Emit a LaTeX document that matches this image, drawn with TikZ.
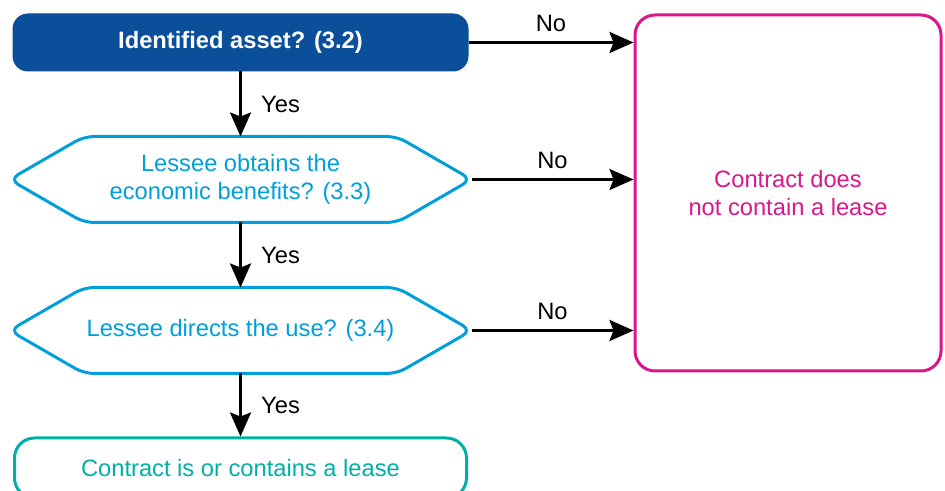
\documentclass[tikz,border=0pt]{standalone}
\usepackage{fontspec}
\setmainfont{Liberation Sans}
\usetikzlibrary{positioning, shapes.symbols, arrows.meta}

\definecolor{assetblue}{HTML}{0B4F9A}
\definecolor{questcyan}{HTML}{009FDC}
\definecolor{leasepink}{HTML}{D8178C}
\definecolor{leaseteal}{HTML}{00B0A8}

\begin{document}
\begin{tikzpicture}[x=1pt, y=1pt,
    font=\fontsize{23.7}{28.5}\selectfont,
    startnode/.style={rectangle, rounded corners=15pt, fill=assetblue, draw=assetblue, line width=1pt, text=white, font=\fontsize{23.7}{28.5}\selectfont\bfseries, minimum width=455pt, minimum height=57pt, inner sep=0pt},
    questnode/.style={signal, signal to=east and west, signal pointer angle=60, rounded corners=10pt, draw=questcyan, text=questcyan, line width=3pt, minimum width=462pt, minimum height=86pt, inner sep=0pt, outer sep=0pt, align=center},
    nonode/.style={rectangle, rounded corners=20pt, draw=leasepink, text=leasepink, line width=3pt, minimum width=306pt, minimum height=356pt, align=center},
    yesnode/.style={rectangle, rounded corners=20pt, draw=leaseteal, text=leaseteal, line width=3pt, minimum width=452pt, minimum height=60pt},
    flow/.style={-{Stealth[length=24pt, width=21pt, inset=4pt]}, line width=2.8pt},
    ]
      \clip (0,0) rectangle (945,490);

      %Nodes
      \node      (asset)    [startnode]   at (240.5,447.5)          {Identified asset? (3.2)};
      \node      (benefit)  [questnode, below=65pt of asset]        {Lessee obtains the\\economic benefits? (3.3)};
      \node      (direct)   [questnode, below=65pt of benefit]      {Lessee directs the use? (3.4)};
      \node      (islease)  [yesnode, below=63pt of direct]         {Contract is or contains a lease};
      \node      (nolease)  [nonode, below right=0pt and 165pt of asset.north east] {Contract does\\not contain a lease};

      %Lines
      \draw[flow] (asset.south)    to node[right=16pt] {Yes} (benefit.north);
      \draw[flow] (benefit.south)  to node[right=16pt] {Yes} (direct.north);
      \draw[flow] (direct.south)   to node[right=16pt] {Yes} (islease.north);

      \draw[flow] (asset.east)     to node[above=6pt] {No} (asset.east -| nolease.west);
      \draw[flow] (benefit.east)   to node[above=6pt] {No} (benefit.east -| nolease.west);
      \draw[flow] (direct.east)    to node[above=6pt] {No} (direct.east -| nolease.west);
    \end{tikzpicture}
\end{document}
